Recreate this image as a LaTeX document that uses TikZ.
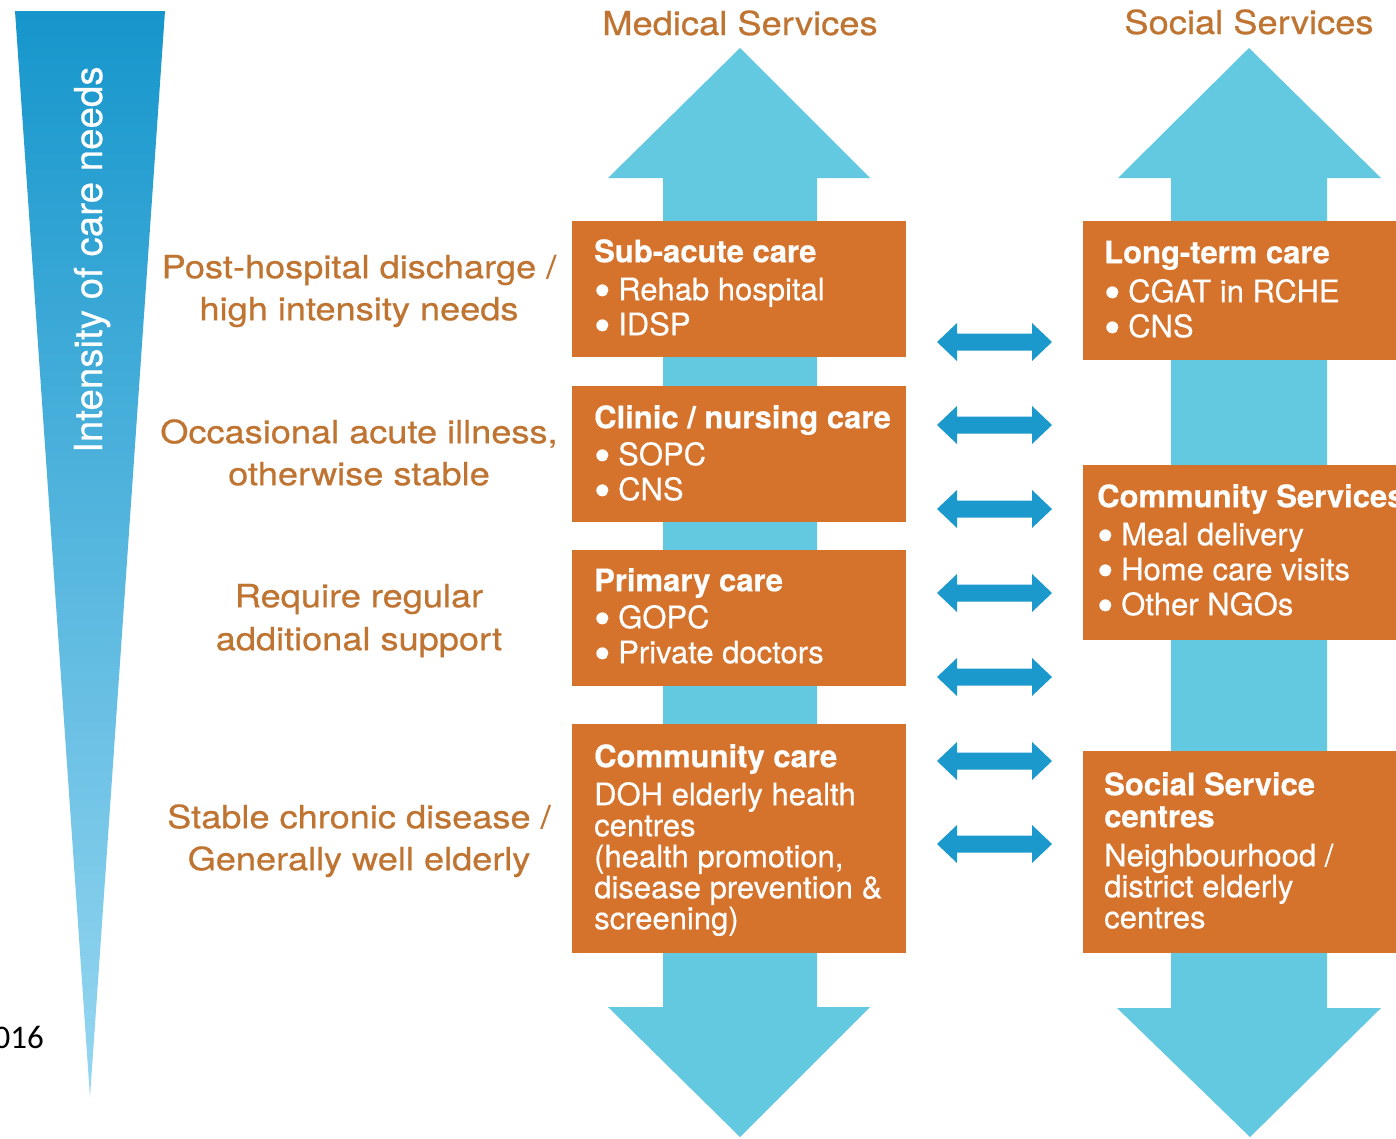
\documentclass[tikz,border=0pt]{standalone}
\usepackage{fontspec}
\setmainfont[FakeBold=0.5]{TeX Gyre Heros}
\newfontfamily\lblfont[FakeStretch=1.13,FakeBold=0.6]{TeX Gyre Heros}
\newfontfamily\headfont[FakeStretch=1.1,FakeBold=0.6]{TeX Gyre Heros}
\newfontfamily\calfont{Carlito}
\definecolor{boxorange}{HTML}{D5722B}
\definecolor{lblcol}{HTML}{BF7432}
\definecolor{bigcyan}{HTML}{62C9E0}
\definecolor{dblblue}{HTML}{1B98CC}
\definecolor{wedgetop}{HTML}{1696CC}
\definecolor{wedgebot}{HTML}{97D7F1}
\newcommand\bul{\makebox[24pt][l]{\raisebox{-0.2em}{\scalebox{1.5}{\textbullet}}}}
\tikzset{
  carebox/.style={fill=boxorange, draw=none, inner sep=0},
  boxtxt/.style={anchor=north west, inner sep=0, align=left, text=white, font=\fontsize{31}{35}\selectfont},
  boxtxtc/.style={boxtxt, font=\fontsize{31}{31}\selectfont},
  needlbl/.style={anchor=north, inner sep=0, align=center, text=lblcol, font=\lblfont\fontsize{32}{42}\selectfont},
  headlbl/.style={anchor=base, inner sep=0, text=lblcol, font=\headfont\fontsize{33}{36}\selectfont},
  twoway/.style={fill=dblblue, draw=none},
  bigarrow/.style={fill=bigcyan, draw=none}
}
\begin{document}
\begin{tikzpicture}[x=1pt, y=-1pt]
\useasboundingbox (0,0) rectangle (1396,1138);
\fill[white] (0,0) rectangle (1396,1138);

% intensity wedge
\shade[top color=wedgetop, bottom color=wedgebot] (15,11) -- (165,11) -- (90,1097) -- cycle;
\node[rotate=90, anchor=base west, inner sep=0, text=white, font=\fontsize{38.5}{40}\selectfont] (intens) at (102,453) {Intensity of care needs};
\node[anchor=base east, inner sep=0, font=\calfont\fontsize{33}{36}\selectfont] (yr) at (44,1048) {016};

% big two-headed arrows
\fill[bigarrow] (740,48) -- (870,178) -- (817,178) -- (817,1007) -- (870,1007) -- (740,1137) -- (608,1007) -- (663,1007) -- (663,178) -- (608,178) -- cycle;
\fill[bigarrow] (1249,48) -- (1381,178) -- (1327,178) -- (1327,1008) -- (1381,1008) -- (1250,1137) -- (1117,1008) -- (1171,1008) -- (1171,178) -- (1118,178) -- cycle;

% headings
\node[headlbl] (medhead) at (740,35) {Medical Services};
\node[headlbl] (sochead) at (1249,34) {Social Services};

% medical boxes
\path[carebox] (572,221) rectangle (906,357);
\path[carebox] (572,386) rectangle (906,522);
\path[carebox] (572,550) rectangle (906,686);
\path[carebox] (572,724) rectangle (906,953);
% social boxes
\path[carebox] (1083,221) rectangle (1400,360);
\path[carebox] (1083,465) rectangle (1400,640);
\path[carebox] (1083,751) rectangle (1400,953);

% medical texts
\node[boxtxt] (m1) at (594,237) {\rule{0pt}{25pt}\textbf{Sub-acute care}\\[3pt]\bul Rehab hospital\\\bul IDSP};
\node[boxtxt] (m2) at (594,403) {\rule{0pt}{25pt}\textbf{Clinic / nursing care}\\[2pt]\bul SOPC\\\bul CNS};
\node[boxtxt] (m3) at (594,566) {\rule{0pt}{25pt}\textbf{Primary care}\\[2pt]\bul GOPC\\\bul Private doctors};
\node[boxtxtc] (m4) at (594,742) {\rule{0pt}{25pt}\textbf{Community care}\\[7pt]DOH elderly health\\centres\\(health promotion,\\disease prevention \&\\screening)};

% social texts
\node[boxtxt] (s1) at (1104,238) {\rule{0pt}{25pt}\textbf{Long-term care}\\[4pt]\bul CGAT in RCHE\\\bul CNS};
\node[boxtxt] (s2) at (1097,482) {\rule{0pt}{25pt}\textbf{Community Services}\\[3pt]\bul Meal delivery\\\bul Home care visits\\\bul Other NGOs};
\node[boxtxtc] (s3) at (1104,770) {\rule{0pt}{25pt}\textbf{Social Service}\\[1pt]\textbf{centres}\\[8pt]Neighbourhood /\\district elderly\\centres};

% need labels
\node[needlbl] (n1) at (359,252) {\rule{0pt}{26pt}Post-hospital discharge /\\high intensity needs};
\node[needlbl] (n2) at (359,417) {\rule{0pt}{26pt}Occasional acute illness,\\otherwise stable};
\node[needlbl] (n3) at (359,581) {\rule{0pt}{26pt}Require regular\\[1pt]additional support};
\node[needlbl] (n4) at (359,802) {\rule{0pt}{26pt}Stable chronic disease /\\Generally well elderly};

% two-way arrows between the columns
\foreach \yy in {342,425,509,593,677,761,844}{
  \fill[twoway] (937,\yy) -- (957,\yy-19) -- (957,\yy-8.5) -- (1032,\yy-8.5) -- (1032,\yy-19) -- (1052,\yy) -- (1032,\yy+19) -- (1032,\yy+8.5) -- (957,\yy+8.5) -- (957,\yy+19) -- cycle;
}
\end{tikzpicture}
\end{document}
